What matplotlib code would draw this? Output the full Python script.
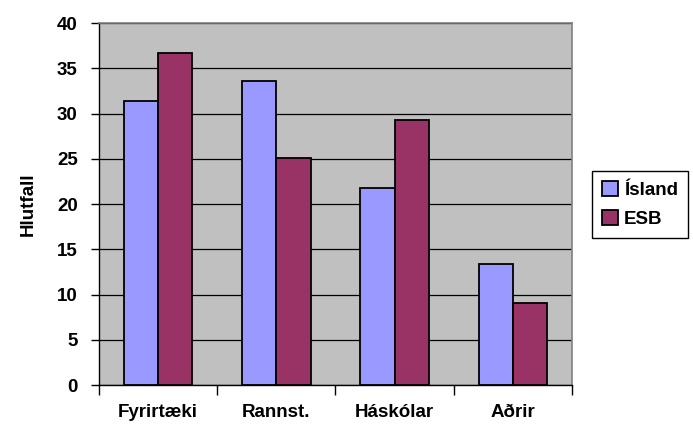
import numpy as np
import matplotlib
matplotlib.use("Agg")
import matplotlib.pyplot as plt

plt.rcParams['font.family'] = ['Liberation Sans', 'DejaVu Sans']
plt.rcParams['font.weight'] = 'bold'

categories = ['Fyrirtæki', 'Rannst.', 'Háskólar', 'Aðrir']
island = [31.4, 33.6, 21.8, 13.4]
esb = [36.7, 25.1, 29.25, 9.1]
series_names = ['Ísland', 'ESB']
yticks = [0, 5, 10, 15, 20, 25, 30, 35, 40]

fs = 13.5

fig = plt.figure(figsize=(6.93, 4.26), dpi=100)
ax = fig.add_axes([98.7 / 693, 1 - 385 / 426, (572 - 98.7) / 693, (385 - 23) / 426])
ax.set_facecolor('#C0C0C0')

x = np.arange(len(categories))
w = 0.29
ax.bar(x - w / 2, island, w, color='#9999FF', edgecolor='black', linewidth=1.3,
       label=series_names[0], zorder=3)
ax.bar(x + w / 2, esb, w, color='#993366', edgecolor='black', linewidth=1.3,
       label=series_names[1], zorder=3)

ax.set_xlim(-0.5, len(categories) - 0.5)
ax.set_ylim(0, 40)
ax.set_yticks(yticks)
ax.set_yticklabels([str(v) for v in yticks], fontsize=fs, fontweight='bold')
ax.yaxis.grid(True, color='black', linewidth=0.9, zorder=1)
ax.set_axisbelow(True)

# category labels in the middle, tick marks at the boundaries
ax.set_xticks(x)
ax.set_xticklabels(categories, fontsize=fs, fontweight='bold')
ax.tick_params(axis='x', which='major', length=0, pad=13.5)
ax.set_xticks(np.arange(-0.5, len(categories)), minor=True)
ax.tick_params(axis='x', which='minor', length=7, width=1, color='black', direction='out')
ax.tick_params(axis='y', length=6, width=1, direction='out', pad=9)

for s in ['top', 'right']:
    ax.spines[s].set_color('#808080')
    ax.spines[s].set_linewidth(1.2)
for s in ['left', 'bottom']:
    ax.spines[s].set_color('black')
    ax.spines[s].set_linewidth(1)

ax.set_ylabel('Hlutfall', fontsize=fs, fontweight='bold', labelpad=15)

fig.legend(loc='center left', bbox_to_anchor=(592 / 693, 1 - 204.5 / 426),
           fancybox=False, edgecolor='black', framealpha=1, fontsize=fs,
           handlelength=0.85, handleheight=0.85, handletextpad=0.3,
           borderpad=0.55, labelspacing=0.6, borderaxespad=0)

fig.savefig('out.png', dpi=100)
